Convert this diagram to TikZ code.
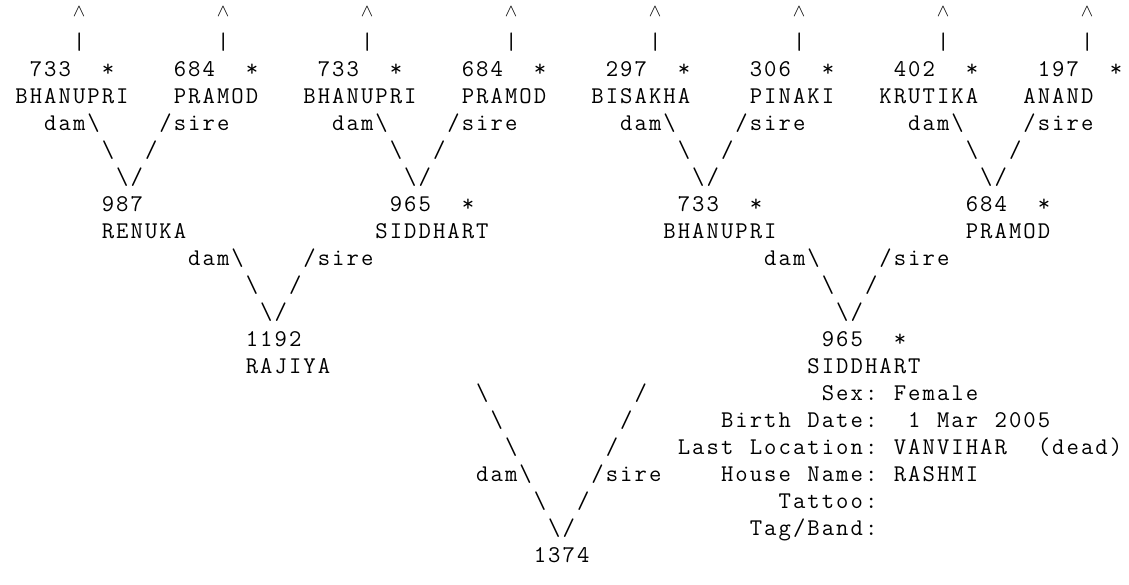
\documentclass[tikz,border=0pt]{standalone}
\usepackage{tikz}
\newlength\cw \setlength\cw{14.4pt}
\makeatletter
\def\mono@loop#1{\ifx#1\relax\else\makebox[\cw][c]{#1}\expandafter\mono@loop\fi}
\newcommand\mono[1]{\mono@loop#1\relax}
\makeatother
\tikzset{txt/.style={inner sep=0pt, outer sep=0pt, anchor=base west, font=\ttfamily\fontsize{24}{27}\selectfont}}
\newcommand\placetxt[4]{\node[txt] (#1) at ({(#2)*14.4pt},{-22.7pt-(#3)*27pt}) {\mono{#4}};}
\newcommand\BS{\textbackslash}
\newcommand\caret{\raisebox{6.5pt}{\scalebox{0.75}[0.7]{$\wedge$}}}
\begin{document}
\begin{tikzpicture}
\useasboundingbox (0,0) rectangle (1129pt,-585pt);
\fill[white] (0,0) rectangle (1129pt,-585pt);
% generation 4: carets and bars
\foreach \i/\c in {1/5,2/15,3/25,4/35,5/45,6/55,7/65,8/75}{
  \placetxt{caret\i}{\c}{0}{\caret}
  \placetxt{bar\i}{\c}{1}{|}
  \placetxt{star\i}{\c+2}{2}{*}
}
\placetxt{n1}{2}{2}{733}
\placetxt{n2}{12}{2}{684}
\placetxt{n3}{22}{2}{733}
\placetxt{n4}{32}{2}{684}
\placetxt{n5}{42}{2}{297}
\placetxt{n6}{52}{2}{306}
\placetxt{n7}{62}{2}{402}
\placetxt{n8}{72}{2}{197}
\placetxt{m1}{1}{3}{BHANUPRI}
\placetxt{m2}{12}{3}{PRAMOD}
\placetxt{m3}{21}{3}{BHANUPRI}
\placetxt{m4}{32}{3}{PRAMOD}
\placetxt{m5}{41}{3}{BISAKHA}
\placetxt{m6}{52}{3}{PINAKI}
\placetxt{m7}{61}{3}{KRUTIKA}
\placetxt{m8}{71}{3}{ANAND}
% joins gen 4 -> gen 3
\foreach \j/\c in {1/0,2/20,3/40,4/60}{
  \placetxt{dA\j}{\c+3}{4}{dam\BS}
  \placetxt{sA\j}{\c+11}{4}{/sire}
  \placetxt{lA\j}{\c+7}{5}{\BS}
  \placetxt{rA\j}{\c+10}{5}{/}
  \placetxt{vA\j}{\c+8}{6}{\BS/}
}
% generation 3
\placetxt{g1}{7}{7}{987}
\placetxt{g2}{27}{7}{965}
\placetxt{g2s}{32}{7}{*}
\placetxt{g3}{47}{7}{733}
\placetxt{g3s}{52}{7}{*}
\placetxt{g4}{67}{7}{684}
\placetxt{g4s}{72}{7}{*}
\placetxt{h1}{7}{8}{RENUKA}
\placetxt{h2}{26}{8}{SIDDHART}
\placetxt{h3}{46}{8}{BHANUPRI}
\placetxt{h4}{67}{8}{PRAMOD}
% joins gen 3 -> gen 2
\foreach \j/\c in {1/10,2/50}{
  \placetxt{dB\j}{\c+3}{9}{dam\BS}
  \placetxt{sB\j}{\c+11}{9}{/sire}
  \placetxt{lB\j}{\c+7}{10}{\BS}
  \placetxt{rB\j}{\c+10}{10}{/}
  \placetxt{vB\j}{\c+8}{11}{\BS/}
}
% generation 2
\placetxt{p1}{17}{12}{1192}
\placetxt{p2}{57}{12}{965}
\placetxt{p2s}{62}{12}{*}
\placetxt{q1}{17}{13}{RAJIYA}
\placetxt{q2}{56}{13}{SIDDHART}
% join gen 2 -> gen 1
\placetxt{lC1}{33}{14}{\BS}
\placetxt{rC1}{44}{14}{/}
\placetxt{lC2}{34}{15}{\BS}
\placetxt{rC2}{43}{15}{/}
\placetxt{lC3}{35}{16}{\BS}
\placetxt{rC3}{42}{16}{/}
\placetxt{dC}{33}{17}{dam\BS}
\placetxt{sC}{41}{17}{/sire}
\placetxt{lC4}{37}{18}{\BS}
\placetxt{rC4}{40}{18}{/}
\placetxt{vC}{38}{19}{\BS/}
\placetxt{root}{37}{20}{1374}
% info block
\placetxt{i1a}{57}{14}{Sex:}
\placetxt{i1b}{62}{14}{Female}
\placetxt{i2a}{50}{15}{Birth}
\placetxt{i2b}{56}{15}{Date:}
\placetxt{i2c}{63}{15}{1}
\placetxt{i2d}{65}{15}{Mar}
\placetxt{i2e}{69}{15}{2005}
\placetxt{i3a}{47}{16}{Last}
\placetxt{i3b}{52}{16}{Location:}
\placetxt{i3c}{62}{16}{VANVIHAR}
\placetxt{i3d}{72}{16}{(dead)}
\placetxt{i4a}{50}{17}{House}
\placetxt{i4b}{56}{17}{Name:}
\placetxt{i4c}{62}{17}{RASHMI}
\placetxt{i5}{54}{18}{Tattoo:}
\placetxt{i6}{52}{19}{Tag/Band:}
\end{tikzpicture}
\end{document}
